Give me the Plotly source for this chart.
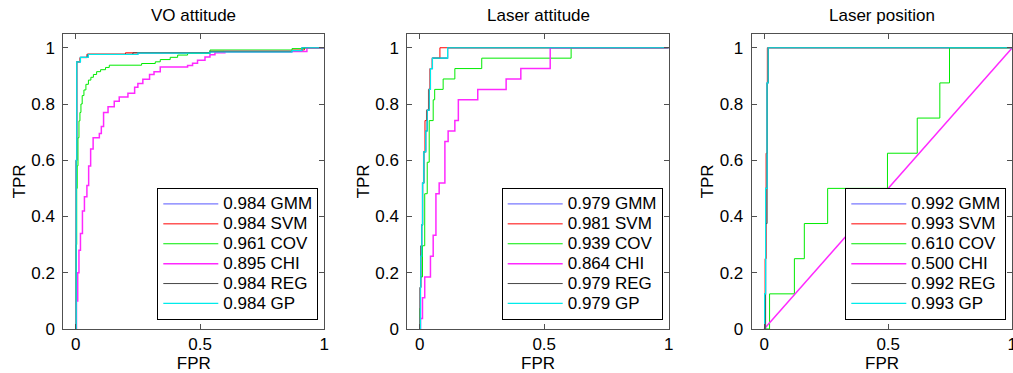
import plotly.graph_objects as go

# ---------------- data ----------------
methods = ["GMM", "SVM", "COV", "CHI", "REG", "GP"]
panel_titles = ["VO attitude", "Laser attitude", "Laser position"]

# Panel 1: VO attitude
vo_auc = [0.984, 0.984, 0.961, 0.895, 0.984, 0.984]
vo_gmm_fpr = [0, 0.002, 0.004, 0.019, 0.05, 0.25, 0.54, 0.87, 0.91, 1.0]
vo_gmm_tpr = [0, 0.6, 0.95, 0.966, 0.976, 0.981, 0.985, 0.99, 1.0, 1.0]
vo_svm_fpr = [0, 0.002, 0.004, 0.017, 0.045, 0.2, 0.54, 0.87, 0.92, 1.0]
vo_svm_tpr = [0, 0.6, 0.95, 0.965, 0.977, 0.982, 0.988, 0.992, 1.0, 1.0]
vo_cov_fpr = [0, 0.002, 0.004, 0.006, 0.009, 0.013, 0.017, 0.021, 0.026, 0.033, 0.041, 0.051, 0.061,
              0.071, 0.084, 0.1, 0.12, 0.135, 0.265, 0.32, 0.34, 0.38, 0.41, 0.45, 0.54, 0.87, 0.92, 1.0]
vo_cov_tpr = [0, 0.3, 0.5, 0.58, 0.68, 0.74, 0.77, 0.8, 0.83, 0.85, 0.87, 0.885, 0.895,
              0.905, 0.915, 0.922, 0.93, 0.938, 0.944, 0.95, 0.958, 0.966, 0.974, 0.98, 0.992, 0.997, 1.0, 1.0]
vo_chi_fpr = [0, 0.003, 0.008, 0.013, 0.019, 0.027, 0.035, 0.045, 0.052, 0.06, 0.07, 0.095, 0.103,
              0.112, 0.13, 0.155, 0.175, 0.21, 0.237, 0.25, 0.27, 0.297, 0.315, 0.34, 0.45, 0.47,
              0.49, 0.52, 0.54, 0.56, 0.6, 0.93, 1.0]
vo_chi_tpr = [0, 0.1, 0.2, 0.28, 0.34, 0.42, 0.47, 0.51, 0.58, 0.64, 0.68, 0.695, 0.72,
              0.77, 0.79, 0.81, 0.825, 0.838, 0.86, 0.873, 0.888, 0.905, 0.915, 0.932, 0.937, 0.945,
              0.956, 0.967, 0.975, 0.982, 0.987, 1.0, 1.0]
vo_reg_fpr = [0, 0.002, 0.004, 0.019, 0.048, 0.23, 0.54, 0.87, 0.91, 1.0]
vo_reg_tpr = [0, 0.6, 0.95, 0.966, 0.977, 0.982, 0.986, 0.99, 1.0, 1.0]
vo_gp_fpr = [0, 0.002, 0.004, 0.019, 0.05, 0.25, 0.54, 0.87, 0.91, 1.0]
vo_gp_tpr = [0, 0.6, 0.95, 0.966, 0.976, 0.981, 0.985, 0.99, 1.0, 1.0]

# Panel 2: Laser attitude
la_auc = [0.979, 0.981, 0.939, 0.864, 0.979, 0.979]
la_gmm_fpr = [0, 0.003, 0.004, 0.008, 0.011, 0.016, 0.024, 0.03, 0.038, 0.043, 0.051, 0.112, 1.0]
la_gmm_tpr = [0, 0.148, 0.259, 0.37, 0.519, 0.63, 0.704, 0.778, 0.852, 0.926, 0.963, 1.0, 1.0]
la_svm_fpr = [0, 0.002, 0.004, 0.007, 0.011, 0.015, 0.021, 0.027, 0.035, 0.041, 0.05, 0.081, 1.0]
la_svm_tpr = [0, 0.148, 0.259, 0.37, 0.519, 0.63, 0.741, 0.778, 0.852, 0.926, 0.963, 1.0, 1.0]
la_cov_fpr = [0, 0.001, 0.003, 0.011, 0.02, 0.03, 0.038, 0.054, 0.06, 0.094, 0.141, 0.249, 0.608, 1.0]
la_cov_tpr = [0, 0.074, 0.185, 0.296, 0.481, 0.593, 0.741, 0.815, 0.852, 0.889, 0.926, 0.963, 1.0, 1.0]
la_chi_fpr = [0, 0.003, 0.011, 0.02, 0.043, 0.054, 0.065, 0.078, 0.101, 0.114, 0.141, 0.155, 0.233,
              0.347, 0.406, 0.524, 1.0]
la_chi_tpr = [0, 0.037, 0.111, 0.185, 0.259, 0.333, 0.481, 0.519, 0.667, 0.704, 0.741, 0.815, 0.852,
              0.889, 0.926, 1.0, 1.0]
la_reg_fpr = [0, 0.001, 0.004, 0.008, 0.012, 0.017, 0.024, 0.03, 0.038, 0.043, 0.051, 0.112, 1.0]
la_reg_tpr = [0, 0.148, 0.296, 0.37, 0.519, 0.63, 0.704, 0.778, 0.852, 0.926, 0.963, 1.0, 1.0]
la_gp_fpr = [0, 0.003, 0.004, 0.008, 0.011, 0.016, 0.024, 0.03, 0.038, 0.043, 0.051, 0.112, 1.0]
la_gp_tpr = [0, 0.148, 0.259, 0.37, 0.519, 0.63, 0.704, 0.778, 0.852, 0.926, 0.963, 1.0, 1.0]

# Panel 3: Laser position
lp_auc = [0.992, 0.993, 0.610, 0.500, 0.992, 0.993]
lp_gmm_fpr = [0, 0.002, 0.006, 0.012, 0.016, 1.0]
lp_gmm_tpr = [0, 0.125, 0.5, 0.875, 1.0, 1.0]
lp_svm_fpr = [0, 0.004, 0.008, 0.013, 1.0]
lp_svm_tpr = [0, 0.25, 0.625, 1.0, 1.0]
lp_cov_fpr = [0, 0.022, 0.122, 0.162, 0.256, 0.497, 0.617, 0.708, 0.747, 1.0]
lp_cov_tpr = [0, 0.125, 0.25, 0.375, 0.5, 0.625, 0.75, 0.875, 1.0, 1.0]
lp_chi_fpr = [0, 1.0]
lp_chi_tpr = [0, 1.0]
lp_reg_fpr = [0, 0.006, 0.012, 0.017, 1.0]
lp_reg_tpr = [0, 0.375, 0.875, 1.0, 1.0]
lp_gp_fpr = [0, 0.002, 0.006, 0.012, 0.016, 1.0]
lp_gp_tpr = [0, 0.125, 0.5, 0.875, 1.0, 1.0]

x_ticks = [0, 0.5, 1]
x_ticklabels = ["0", "0.5", "1"]
y_ticks = [0, 0.2, 0.4, 0.6, 0.8, 1]
y_ticklabels = ["0", "0.2", "0.4", "0.6", "0.8", "1"]

# ---------------- styling ----------------
colors = {"GMM": "rgb(120,120,255)", "SVM": "rgb(255,0,0)", "COV": "rgb(0,235,0)",
          "CHI": "rgb(255,40,255)", "REG": "rgb(70,70,70)", "GP": "rgb(0,235,235)"}
widths = {"GMM": 1.2, "SVM": 1, "COV": 1, "CHI": 1.5, "REG": 1, "GP": 1.2}
FONT = "Liberation Sans, Arial, sans-serif"
FS = 17

panels = [
    (vo_auc, [(vo_gmm_fpr, vo_gmm_tpr), (vo_svm_fpr, vo_svm_tpr), (vo_cov_fpr, vo_cov_tpr),
              (vo_chi_fpr, vo_chi_tpr), (vo_reg_fpr, vo_reg_tpr), (vo_gp_fpr, vo_gp_tpr)]),
    (la_auc, [(la_gmm_fpr, la_gmm_tpr), (la_svm_fpr, la_svm_tpr), (la_cov_fpr, la_cov_tpr),
              (la_chi_fpr, la_chi_tpr), (la_reg_fpr, la_reg_tpr), (la_gp_fpr, la_gp_tpr)]),
    (lp_auc, [(lp_gmm_fpr, lp_gmm_tpr), (lp_svm_fpr, lp_svm_tpr), (lp_cov_fpr, lp_cov_tpr),
              (lp_chi_fpr, lp_chi_tpr), (lp_reg_fpr, lp_reg_tpr), (lp_gp_fpr, lp_gp_tpr)]),
]

W, H = 1013, 373
x_domains = [(63.3 / W, 324.3 / W), (407.3 / W, 668.7 / W), (751.7 / W, 1012.3 / W)]
y_domain = (1 - 329 / H, 1 - 33.7 / H)
legend_names = ["legend", "legend2", "legend3"]

fig = go.Figure()
for p, (aucs, curves) in enumerate(panels):
    xa = "x" if p == 0 else f"x{p + 1}"
    ya = "y" if p == 0 else f"y{p + 1}"
    for m, auc, (fpr, tpr) in zip(methods, aucs, curves):
        shape = "linear" if len(fpr) == 2 else "hv"
        fig.add_trace(go.Scatter(
            x=fpr, y=tpr, mode="lines", xaxis=xa, yaxis=ya,
            line=dict(color=colors[m], width=widths[m], shape=shape),
            name=f'<span style="font-size:{FS}px">{auc:.3f} {m}</span>',
            legend=legend_names[p], showlegend=True, hoverinfo="skip"))

axis_common = dict(showline=True, linecolor="rgb(80,80,80)", linewidth=1, mirror="ticks",
                   ticks="inside", ticklen=5, tickcolor="rgb(80,80,80)", showgrid=False,
                   zeroline=False, tickfont=dict(family=FONT, size=FS, color="black"),
                   automargin=False, ticklabeloverflow="allow")

layout = dict(
    width=W, height=H, margin=dict(l=0, r=0, t=0, b=0),
    paper_bgcolor="white", plot_bgcolor="white",
    font=dict(family=FONT, size=FS, color="black"),
    annotations=[],
)
for p in range(3):
    sx = "" if p == 0 else str(p + 1)
    layout[f"xaxis{sx}"] = dict(axis_common, domain=list(x_domains[p]), range=[-0.05, 1.0],
                                tickvals=x_ticks, ticktext=x_ticklabels, anchor=f"y{sx}",
                                title=dict(text="FPR", font=dict(family=FONT, size=FS), standoff=6))
    layout[f"yaxis{sx}"] = dict(axis_common, domain=list(y_domain), range=[0, 1.05],
                                tickvals=y_ticks, ticktext=y_ticklabels, anchor=f"x{sx}",
                                ticklabelstandoff=4,
                                title=dict(text="TPR", font=dict(family=FONT, size=FS), standoff=1))
    layout[legend_names[p]] = dict(
        x=(x_domains[p][1] * W - 6) / W, xanchor="right",
        y=1 - 320 / H, yanchor="bottom",
        bgcolor="white", bordercolor="black", borderwidth=1,
        font=dict(family=FONT, size=13, color="black"),
        itemwidth=55, tracegroupgap=0, traceorder="normal")
    layout["annotations"].append(dict(
        text=panel_titles[p], x=(x_domains[p][0] + x_domains[p][1]) / 2, y=1 - 15.5 / H,
        xref="paper", yref="paper", xanchor="center", yanchor="middle", showarrow=False,
        font=dict(family=FONT, size=FS, color="black")))

fig.update_layout(**layout)
fig.write_html("out.html")
